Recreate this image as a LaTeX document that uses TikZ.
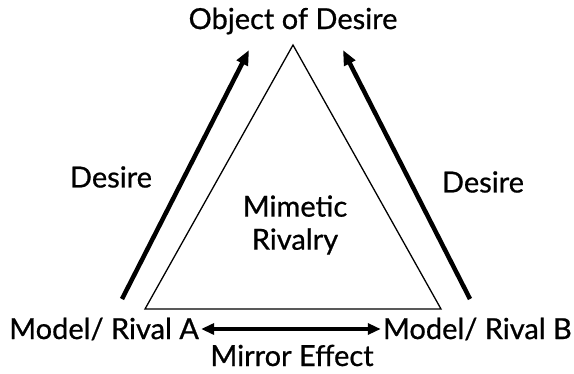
\documentclass[tikz,border=0pt]{standalone}
\usepackage{fontspec}
\setmainfont{Lato}[FakeBold=0.7]
\usetikzlibrary{arrows.meta}
\begin{document}
\begin{tikzpicture}[x=1pt,y=-1pt,
  lbl/.style={inner sep=0pt,font=\fontsize{29}{33}\selectfont},
  big/.style={inner sep=0pt,font=\fontsize{29}{33}\selectfont},
  thick arrow/.style={line width=4.5pt,-{Triangle[length=15pt,width=12pt]}},
  dbl arrow/.style={line width=3.2pt,{Triangle[length=13pt,width=11pt]}-{Triangle[length=13pt,width=11pt]}}]
\useasboundingbox (0,0) rectangle (574,373);
\coordinate (apex) at (293,45);
\coordinate (bl) at (145,309);
\coordinate (br) at (441,309);
\draw[line width=1.3pt,line join=miter] (apex) -- (br) -- (bl) -- cycle;
\node[big] (obj) at (293,21) {Object of Desire};
\node[lbl] (dl) at (111,177) {Desire};
\node[lbl] (dr) at (483,182) {Desire};
\node[lbl,align=center] (mr) at (295,225) {Mimetic\\Rivalry};
\node[lbl,anchor=west] (ma) at (9,329) {Model/ Rival A};
\node[lbl,anchor=east] (mb) at (572,329) {Model/ Rival B};
\node[lbl,anchor=base] (me) at (292,366) {Mirror Effect};
\coordinate (la) at (122,299);
\coordinate (lt) at (249,50);
\coordinate (ra) at (470,299);
\coordinate (rt) at (343,50);
\draw[thick arrow] (la) -- (lt);
\draw[thick arrow] (ra) -- (rt);
\draw[dbl arrow] ([xshift=2pt]ma.east) -- ([xshift=-2pt]mb.west);
\end{tikzpicture}
\end{document}
